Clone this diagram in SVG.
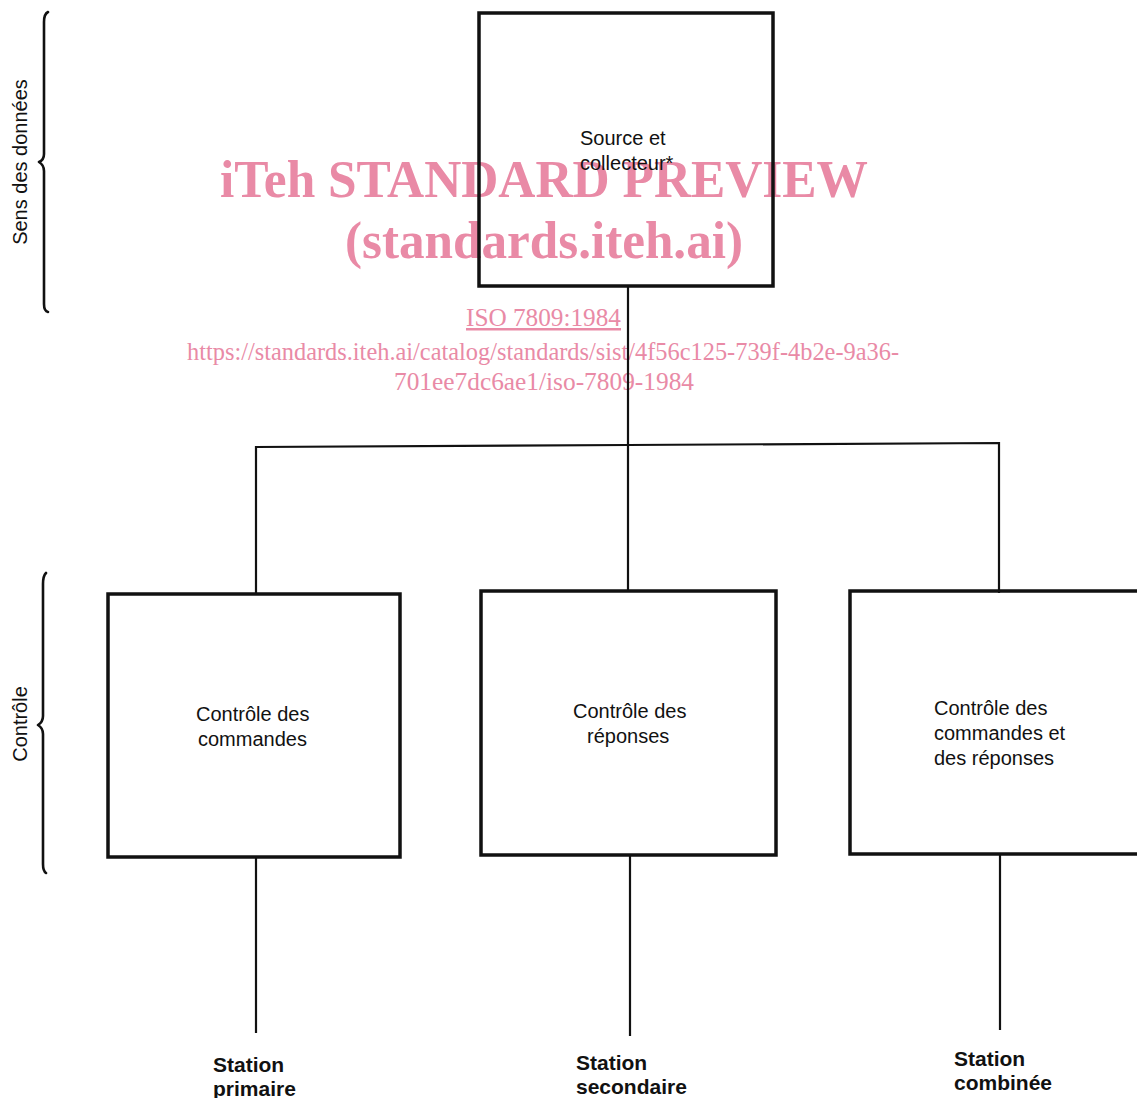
<svg xmlns="http://www.w3.org/2000/svg" width="1137" height="1098" viewBox="0 0 1137 1098">
<style>
.wm{fill:#e98aa6;font-family:"Liberation Serif",serif}
.wmb{font-weight:bold}
.box{fill:none;stroke:#111;stroke-width:3.5;stroke-linejoin:miter}
.ln{fill:none;stroke:#111;stroke-width:2.2}
.br{fill:none;stroke:#111;stroke-width:2.6;stroke-linecap:round;stroke-linejoin:round}
.t{font-family:"Liberation Sans",Arial,sans-serif;font-size:20px;fill:#111}
.tb{font-family:"Liberation Sans",Arial,sans-serif;font-size:21px;font-weight:bold;fill:#111}
</style>
<rect width="1137" height="1098" fill="#fff"/>
<g id="watermark">
<text class="wm wmb" x="220" y="197" font-size="53" textLength="648" lengthAdjust="spacingAndGlyphs">iTeh STANDARD PREVIEW</text>
<text class="wm wmb" x="345" y="258" font-size="53" textLength="398" lengthAdjust="spacingAndGlyphs">(standards.iteh.ai)</text>
<text class="wm" x="466" y="326" font-size="25" textLength="155" lengthAdjust="spacingAndGlyphs" text-decoration="underline">ISO 7809:1984</text>
<text class="wm" x="187" y="360" font-size="25" textLength="712" lengthAdjust="spacingAndGlyphs">https://standards.iteh.ai/catalog/standards/sist/4f56c125-739f-4b2e-9a36-</text>
<text class="wm" x="394" y="390" font-size="25" textLength="300" lengthAdjust="spacingAndGlyphs">701ee7dc6ae1/iso-7809-1984</text>
</g>
<g id="axis-labels">
<path class="br" d="M48,12 Q44,14 44,22 L44,154 Q44,160 39,162 Q44,165 44,171 L44,304 Q44,311 48,312"/>
<text class="t" transform="translate(27,162) rotate(-90)" text-anchor="middle">Sens des données</text>
<path class="br" d="M46,573 Q43,576 43,584 L43,716 Q43,722 38,725 Q43,728 43,734 L43,864 Q43,871 46,873"/>
<text class="t" transform="translate(27,724) rotate(-90)" text-anchor="middle">Contrôle</text>
</g>
<g id="connectors">
<polyline class="ln" points="628,286 628,591"/>
<polyline class="ln" points="256,594 256,447 628,445 999,443 999,593"/>
<line class="ln" x1="256" y1="857" x2="256" y2="1033"/>
<line class="ln" x1="630" y1="855" x2="630" y2="1036"/>
<line class="ln" x1="1000" y1="854" x2="1000" y2="1030"/>
</g>
<g id="node-source">
<rect class="box" x="479" y="13" width="294" height="273"/>
<text class="t" x="580" y="145">Source et</text>
<text class="t" x="580" y="170">collecteur*</text>
</g>
<g id="node-commandes">
<rect class="box" x="108" y="594" width="292" height="263"/>
<text class="t" x="196" y="721">Contrôle des</text>
<text class="t" x="198" y="746">commandes</text>
</g>
<g id="node-reponses">
<rect class="box" x="481" y="591" width="295" height="264"/>
<text class="t" x="573" y="718">Contrôle des</text>
<text class="t" x="587" y="743">réponses</text>
</g>
<g id="node-combinee">
<rect class="box" x="850" y="591" width="300" height="263"/>
<text class="t" x="934" y="715">Contrôle des</text>
<text class="t" x="934" y="740">commandes et</text>
<text class="t" x="934" y="765">des réponses</text>
</g>
<g id="station-labels">
<text class="tb" x="213" y="1072">Station</text>
<text class="tb" x="213" y="1096">primaire</text>
<text class="tb" x="576" y="1070">Station</text>
<text class="tb" x="576" y="1094">secondaire</text>
<text class="tb" x="954" y="1066">Station</text>
<text class="tb" x="954" y="1090">combinée</text>
</g>
</svg>
